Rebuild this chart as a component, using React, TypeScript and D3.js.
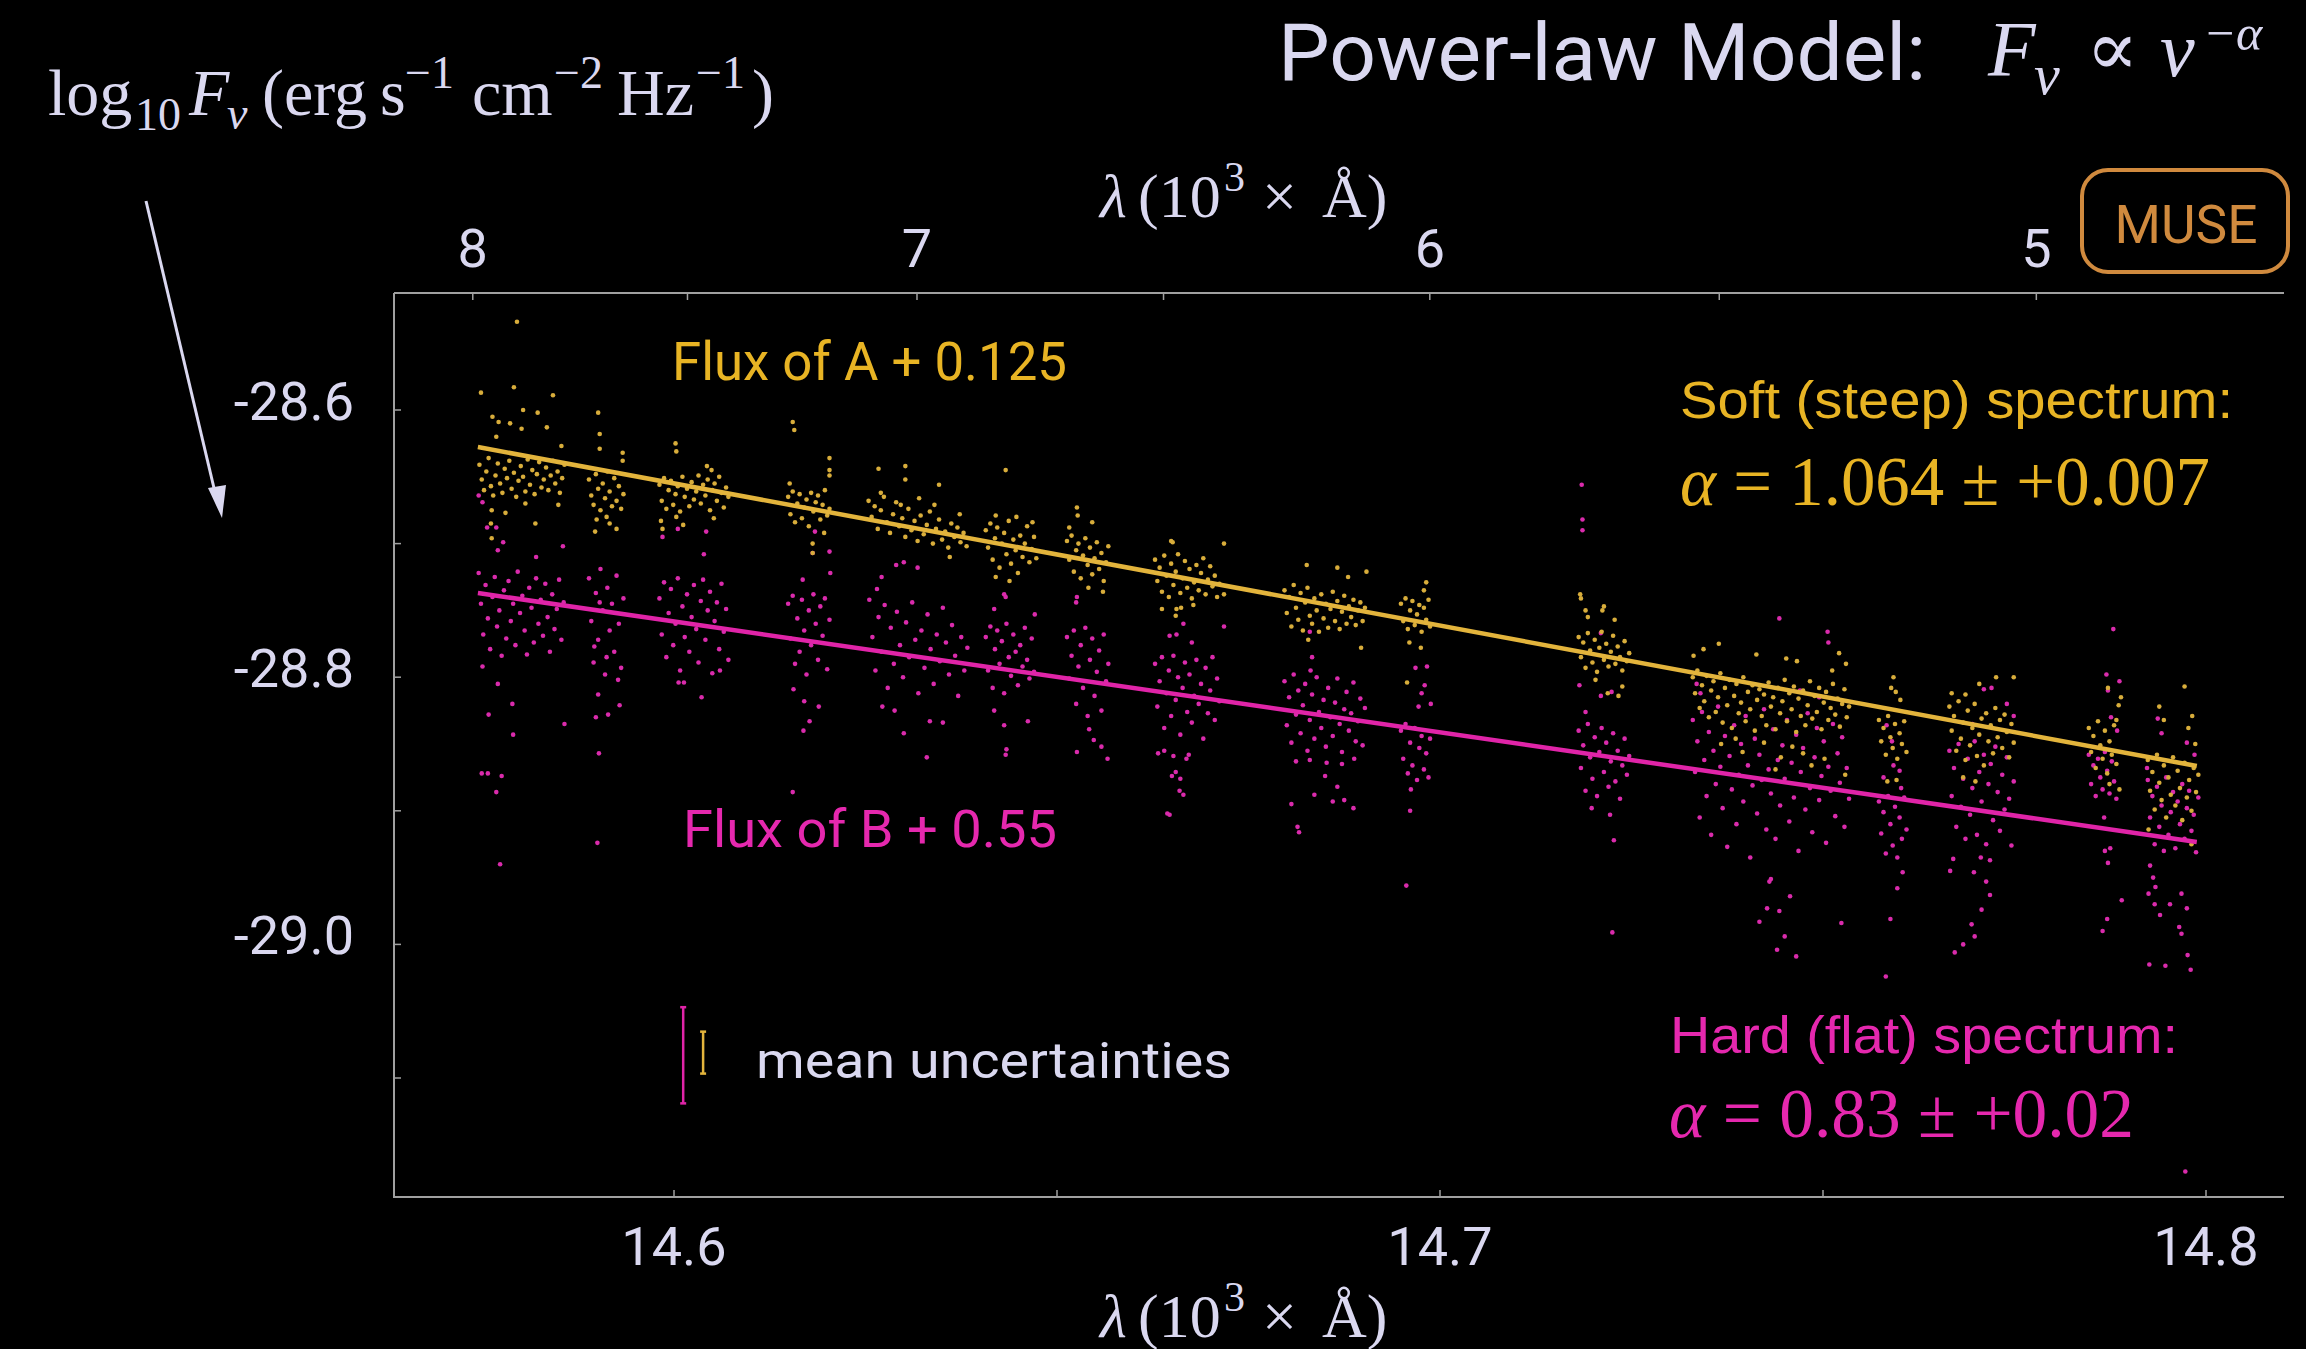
import React, { useEffect } from "react";
import * as d3 from "d3";

// ---------- ticks ----------
const xTicks = [14.6, 14.65, 14.7, 14.75, 14.8];
const xTickLabels = ["14.6", "", "14.7", "", "14.8"];
const yTicks = [-28.6, -28.7, -28.8, -28.9, -29.0, -29.1];
const yTickLabels = ["-28.6", "", "-28.8", "", "-29.0", ""];
const lambdaTicks = [8, 7.5, 7, 6.5, 6, 5.5, 5]; // 10^3 Å
const lambdaTickLabels = ["8", "", "7", "", "6", "", "5"];

// ---------- fits (power-law model lines) ----------
const fitA: number[][] = [[14.5744, -28.6277], [14.7988, -28.8665]];
const fitB: number[][] = [[14.5744, -28.737], [14.7988, -28.9233]];

// mean uncertainties [x, y, half-height]
const errA = [14.6038, -29.081, 0.0157];
const errB = [14.6012, -29.083, 0.036];

// ---------- Flux of A + 0.125 ----------
const fluxA_1 = [[14.5746,-28.641],[14.5749,-28.652],[14.5752,-28.660],[14.5755,-28.646],[14.5758,-28.636],[14.5761,-28.657],[14.5764,-28.664],[14.5767,-28.649],[14.5770,-28.640],[14.5773,-28.655],[14.5776,-28.662],[14.5779,-28.644],[14.5782,-28.651],[14.5785,-28.638],[14.5788,-28.659],[14.5791,-28.647],[14.5794,-28.665],[14.5797,-28.653],[14.5800,-28.642],[14.5803,-28.650],[14.5806,-28.661],[14.5809,-28.637],[14.5812,-28.656],[14.5815,-28.645],[14.5818,-28.663],[14.5821,-28.648],[14.5824,-28.639],[14.5827,-28.658],[14.5830,-28.652],[14.5833,-28.643],[14.5836,-28.660],[14.5839,-28.649],[14.5842,-28.638],[14.5845,-28.655],[14.5848,-28.646],[14.5851,-28.662],[14.5854,-28.651],[14.5857,-28.641],
[14.5748,-28.587],[14.5791,-28.583],[14.5842,-28.589],[14.5803,-28.600],[14.5822,-28.602],[14.5763,-28.605],[14.5771,-28.609],[14.5786,-28.610],[14.5801,-28.614],[14.5834,-28.613],[14.5768,-28.620],[14.5853,-28.627],[14.5762,-28.675],[14.5780,-28.677],[14.5761,-28.685],[14.5819,-28.685],[14.5762,-28.696],[14.5806,-28.670],[14.5849,-28.671],[14.5795,-28.534]];
const fluxA_2 = [[14.5889,-28.652],[14.5892,-28.664],[14.5895,-28.671],[14.5898,-28.648],[14.5901,-28.659],[14.5904,-28.675],[14.5907,-28.655],[14.5910,-28.666],[14.5913,-28.646],[14.5916,-28.661],[14.5919,-28.672],[14.5922,-28.651],[14.5925,-28.668],[14.5928,-28.657],[14.5931,-28.674],[14.5934,-28.663],
[14.5901,-28.602],[14.5903,-28.618],[14.5903,-28.629],[14.5933,-28.632],[14.5933,-28.638],[14.5899,-28.682],[14.5897,-28.691],[14.5916,-28.685],[14.5925,-28.689],[14.5912,-28.680]];
const fluxA_3 = [[14.5981,-28.656],[14.5984,-28.668],[14.5987,-28.651],[14.5990,-28.674],[14.5993,-28.660],[14.5996,-28.653],[14.5999,-28.671],[14.6002,-28.663],[14.6005,-28.657],[14.6008,-28.676],[14.6011,-28.650],[14.6014,-28.665],[14.6017,-28.659],[14.6020,-28.672],[14.6023,-28.654],[14.6026,-28.667],[14.6029,-28.661],[14.6032,-28.649],[14.6035,-28.670],[14.6038,-28.656],[14.6041,-28.664],[14.6044,-28.652],[14.6047,-28.675],[14.6050,-28.660],[14.6053,-28.655],[14.6056,-28.668],[14.6059,-28.650],[14.6062,-28.662],[14.6065,-28.673],[14.6068,-28.658],[14.6071,-28.665],
[14.6002,-28.625],[14.6003,-28.631],[14.6043,-28.642],[14.6049,-28.645],[14.5983,-28.683],[14.6003,-28.680],[14.6052,-28.681],[14.5985,-28.689],[14.6012,-28.686]];
const fluxA_4 = [[14.6149,-28.665],[14.6152,-28.678],[14.6155,-28.661],[14.6158,-28.684],[14.6161,-28.670],[14.6164,-28.663],[14.6167,-28.681],[14.6170,-28.673],[14.6173,-28.667],[14.6176,-28.687],[14.6179,-28.662],[14.6182,-28.676],[14.6185,-28.669],[14.6188,-28.664],[14.6191,-28.682],[14.6194,-28.671],[14.6197,-28.660],[14.6200,-28.679],[14.6203,-28.674],
[14.6155,-28.609],[14.6157,-28.615],[14.6203,-28.636],[14.6203,-28.645],[14.6151,-28.655],[14.6203,-28.649],[14.6181,-28.700],[14.6181,-28.707],[14.6196,-28.692]];
const fluxA_5 = [[14.6254,-28.668],[14.6258,-28.680],[14.6262,-28.672],[14.6266,-28.689],[14.6270,-28.675],[14.6274,-28.665],[14.6278,-28.684],[14.6282,-28.692],[14.6286,-28.678],[14.6290,-28.669],[14.6294,-28.687],[14.6298,-28.681],[14.6302,-28.695],[14.6306,-28.674],[14.6310,-28.690],[14.6314,-28.683],[14.6318,-28.698],[14.6322,-28.679],[14.6326,-28.693],[14.6330,-28.686],[14.6334,-28.676],[14.6338,-28.700],[14.6342,-28.689],[14.6346,-28.682],[14.6350,-28.697],[14.6354,-28.691],[14.6358,-28.703],[14.6362,-28.685],[14.6366,-28.695],[14.6370,-28.688],[14.6374,-28.699],[14.6378,-28.692],[14.6382,-28.702],[14.6296,-28.671],[14.6320,-28.666],[14.6340,-28.671],
[14.6267,-28.644],[14.6302,-28.642],[14.6302,-28.652],[14.6346,-28.656],[14.6360,-28.710],[14.6270,-28.662],[14.6373,-28.678]];
const fluxA_6 = [[14.6407,-28.690],[14.6410,-28.703],[14.6413,-28.685],[14.6416,-28.712],[14.6419,-28.696],[14.6422,-28.688],[14.6425,-28.718],[14.6428,-28.700],[14.6431,-28.692],[14.6434,-28.708],[14.6437,-28.683],[14.6440,-28.715],[14.6443,-28.697],[14.6446,-28.705],[14.6449,-28.722],[14.6452,-28.694],[14.6455,-28.710],[14.6458,-28.700],[14.6461,-28.687],[14.6464,-28.714],[14.6467,-28.704],[14.6470,-28.695],[14.6473,-28.711],
[14.6433,-28.645],[14.6420,-28.679],[14.6447,-28.680],[14.6468,-28.684],[14.6420,-28.725],[14.6438,-28.728]];
const fluxA_7 = [[14.6513,-28.698],[14.6516,-28.712],[14.6519,-28.694],[14.6522,-28.721],[14.6525,-28.705],[14.6528,-28.700],[14.6531,-28.726],[14.6534,-28.709],[14.6537,-28.696],[14.6540,-28.716],[14.6543,-28.703],[14.6546,-28.723],[14.6549,-28.711],[14.6552,-28.699],[14.6555,-28.719],[14.6558,-28.707],[14.6561,-28.728],[14.6564,-28.714],[14.6567,-28.702],
[14.6526,-28.673],[14.6527,-28.679],[14.6546,-28.684],[14.6516,-28.688],[14.6541,-28.733],[14.6560,-28.736]];
const fluxA_8 = [[14.6628,-28.712],[14.6631,-28.728],[14.6634,-28.718],[14.6637,-28.736],[14.6640,-28.709],[14.6643,-28.724],[14.6646,-28.740],[14.6649,-28.715],[14.6652,-28.731],[14.6655,-28.721],[14.6658,-28.708],[14.6661,-28.737],[14.6664,-28.726],[14.6667,-28.713],[14.6670,-28.733],[14.6673,-28.719],[14.6676,-28.741],[14.6679,-28.729],[14.6682,-28.716],[14.6685,-28.735],[14.6688,-28.722],[14.6691,-28.711],[14.6694,-28.738],[14.6697,-28.727],[14.6700,-28.717],[14.6703,-28.732],[14.6706,-28.724],[14.6709,-28.740],[14.6712,-28.730],
[14.6649,-28.698],[14.6651,-28.699],[14.6718,-28.700],[14.6637,-28.749],[14.6656,-28.749],[14.6662,-28.748],[14.6655,-28.754],[14.6678,-28.746],[14.6718,-28.738]];
const fluxA_9 = [[14.6797,-28.735],[14.6800,-28.752],[14.6803,-28.740],[14.6806,-28.762],[14.6809,-28.731],[14.6812,-28.748],[14.6815,-28.757],[14.6818,-28.737],[14.6821,-28.765],[14.6824,-28.744],[14.6827,-28.733],[14.6830,-28.754],[14.6833,-28.760],[14.6836,-28.741],[14.6839,-28.750],[14.6842,-28.766],[14.6845,-28.738],[14.6848,-28.756],[14.6851,-28.745],[14.6854,-28.763],[14.6857,-28.749],[14.6860,-28.736],[14.6863,-28.758],[14.6866,-28.743],[14.6869,-28.764],[14.6872,-28.751],[14.6875,-28.739],[14.6878,-28.760],[14.6881,-28.747],[14.6884,-28.755],[14.6887,-28.742],[14.6890,-28.761],[14.6893,-28.750],[14.6896,-28.744],[14.6899,-28.758],[14.6902,-28.748],
[14.6826,-28.716],[14.6866,-28.718],[14.6904,-28.721],[14.6828,-28.772],[14.6897,-28.778],[14.6880,-28.725]];
const fluxA_10 = [[14.6949,-28.745],[14.6952,-28.758],[14.6955,-28.741],[14.6958,-28.764],[14.6961,-28.750],[14.6964,-28.743],[14.6967,-28.761],[14.6970,-28.753],[14.6973,-28.746],[14.6976,-28.766],[14.6979,-28.748],[14.6982,-28.757],[14.6985,-28.742],[14.6987,-28.762],
[14.6982,-28.729],[14.6979,-28.735],[14.6960,-28.774],[14.6975,-28.778],[14.6957,-28.804]];
const fluxA_11 = [[14.7181,-28.770],[14.7184,-28.785],[14.7187,-28.774],[14.7190,-28.793],[14.7193,-28.767],[14.7196,-28.780],[14.7199,-28.789],[14.7202,-28.772],[14.7205,-28.796],[14.7208,-28.778],[14.7211,-28.766],[14.7214,-28.787],[14.7217,-28.775],[14.7220,-28.792],[14.7223,-28.781],[14.7226,-28.769],[14.7229,-28.790],[14.7232,-28.777],[14.7235,-28.785],[14.7238,-28.795],[14.7241,-28.773],[14.7244,-28.788],[14.7247,-28.782],
[14.7183,-28.738],[14.7184,-28.741],[14.7214,-28.747],[14.7190,-28.750],[14.7212,-28.750],[14.7193,-28.755],[14.7228,-28.757],[14.7203,-28.802],[14.7238,-28.807],[14.7219,-28.812],[14.7233,-28.814]];
const fluxA_12 = [[14.7330,-28.800],[14.7333,-28.812],[14.7336,-28.795],[14.7339,-28.823],[14.7342,-28.806],[14.7345,-28.818],[14.7348,-28.799],[14.7351,-28.830],[14.7354,-28.810],[14.7357,-28.803],[14.7360,-28.826],[14.7363,-28.815],[14.7366,-28.797],[14.7369,-28.834],[14.7372,-28.808],[14.7375,-28.821],[14.7378,-28.802],[14.7381,-28.838],[14.7384,-28.814],[14.7387,-28.805],[14.7390,-28.827],[14.7393,-28.819],[14.7396,-28.800],[14.7399,-28.833],[14.7402,-28.811],[14.7405,-28.824],[14.7408,-28.806],[14.7411,-28.840],[14.7414,-28.817],[14.7417,-28.809],[14.7420,-28.829],[14.7423,-28.813],[14.7426,-28.836],[14.7429,-28.804],[14.7432,-28.822],[14.7435,-28.815],[14.7438,-28.839],[14.7441,-28.808],[14.7444,-28.827],[14.7447,-28.818],[14.7450,-28.802],[14.7453,-28.833],[14.7456,-28.812],[14.7459,-28.824],[14.7462,-28.807],[14.7465,-28.841],[14.7468,-28.816],[14.7471,-28.829],[14.7474,-28.810],[14.7477,-28.836],[14.7480,-28.821],[14.7483,-28.803],[14.7486,-28.831],[14.7489,-28.814],[14.7492,-28.826],[14.7495,-28.808],[14.7498,-28.839],[14.7501,-28.819],[14.7504,-28.811],[14.7507,-28.832],[14.7510,-28.823],[14.7513,-28.805],[14.7516,-28.828],[14.7519,-28.816],[14.7522,-28.837],[14.7525,-28.820],[14.7528,-28.809],[14.7531,-28.830],[14.7534,-28.822],
[14.7331,-28.784],[14.7344,-28.779],[14.7364,-28.775],[14.7413,-28.783],[14.7452,-28.786],[14.7466,-28.788],[14.7521,-28.782],[14.7530,-28.790],[14.7512,-28.795],
[14.7367,-28.850],[14.7386,-28.846],[14.7423,-28.849],[14.7460,-28.852],[14.7474,-28.857],[14.7485,-28.866],[14.7529,-28.873],[14.7438,-28.869],[14.7445,-28.860],[14.7502,-28.861],[14.7395,-28.856]];
const fluxA_13 = [[14.7573,-28.832],[14.7576,-28.848],[14.7579,-28.838],[14.7582,-28.858],[14.7585,-28.829],[14.7588,-28.845],[14.7591,-28.853],[14.7594,-28.835],[14.7597,-28.861],[14.7600,-28.842],[14.7603,-28.850],[14.7606,-28.833],[14.7609,-28.856],
[14.7592,-28.800],[14.7589,-28.808],[14.7595,-28.811],[14.7601,-28.817],[14.7584,-28.878],[14.7596,-28.877]];
const fluxA_14 = [[14.7665,-28.822],[14.7668,-28.840],[14.7671,-28.829],[14.7674,-28.855],[14.7677,-28.818],[14.7680,-28.846],[14.7683,-28.834],[14.7686,-28.862],[14.7689,-28.825],[14.7692,-28.851],[14.7695,-28.838],[14.7698,-28.820],[14.7701,-28.859],[14.7704,-28.843],[14.7707,-28.831],[14.7710,-28.866],[14.7713,-28.827],[14.7716,-28.848],[14.7719,-28.836],[14.7722,-28.857],[14.7725,-28.823],[14.7728,-28.845],[14.7731,-28.832],[14.7734,-28.853],[14.7737,-28.828],[14.7740,-28.841],[14.7743,-28.860],[14.7746,-28.835],[14.7749,-28.849],
[14.7726,-28.800],[14.7749,-28.800],[14.7704,-28.805],[14.7668,-28.812],[14.7686,-28.813],[14.7683,-28.875],[14.7699,-28.878]];
const fluxA_15 = [[14.7847,-28.838],[14.7850,-28.856],[14.7853,-28.844],[14.7856,-28.868],[14.7859,-28.833],[14.7862,-28.851],[14.7865,-28.861],[14.7868,-28.840],[14.7871,-28.872],[14.7874,-28.848],[14.7877,-28.858],[14.7880,-28.836],[14.7883,-28.865],
[14.7872,-28.808],[14.7889,-28.815],[14.7886,-28.821],[14.7883,-28.832],[14.7887,-28.884],[14.7874,-28.880]];
const fluxA_16 = [[14.7924,-28.862],[14.7927,-28.885],[14.7930,-28.871],[14.7933,-28.899],[14.7936,-28.858],[14.7939,-28.879],[14.7942,-28.892],[14.7945,-28.866],[14.7948,-28.905],[14.7951,-28.875],[14.7954,-28.888],[14.7957,-28.860],[14.7960,-28.896],[14.7963,-28.870],[14.7966,-28.883],[14.7969,-28.907],[14.7972,-28.864],[14.7975,-28.890],[14.7978,-28.877],[14.7981,-28.900],[14.7984,-28.868],[14.7987,-28.886],[14.7990,-28.873],
[14.7972,-28.807],[14.7939,-28.822],[14.7982,-28.829],[14.7945,-28.832],[14.7977,-28.838],[14.7986,-28.850],[14.7925,-28.914],[14.7981,-28.925]];

// ---------- Flux of B + 0.55 ----------
const fluxB_1 = [[14.5745,-28.722],[14.5748,-28.745],[14.5751,-28.768],[14.5754,-28.731],[14.5757,-28.756],[14.5760,-28.779],[14.5763,-28.740],[14.5766,-28.725],[14.5769,-28.762],[14.5772,-28.750],[14.5775,-28.784],[14.5778,-28.735],[14.5781,-28.771],[14.5784,-28.728],[14.5787,-28.758],[14.5790,-28.745],[14.5793,-28.776],[14.5796,-28.721],[14.5799,-28.752],[14.5802,-28.739],[14.5805,-28.765],[14.5808,-28.783],[14.5811,-28.733],[14.5814,-28.748],[14.5817,-28.774],[14.5820,-28.726],[14.5823,-28.760],[14.5826,-28.742],[14.5829,-28.769],[14.5832,-28.730],[14.5835,-28.755],[14.5838,-28.781],[14.5841,-28.738],[14.5844,-28.764],[14.5847,-28.749],[14.5850,-28.727],[14.5853,-28.772],[14.5856,-28.744],
[14.5745,-28.664],[14.5750,-28.669],[14.5756,-28.688],[14.5768,-28.688],[14.5777,-28.699],[14.5770,-28.705],[14.5855,-28.702],[14.5820,-28.710],
[14.5750,-28.792],[14.5770,-28.805],[14.5758,-28.828],[14.5789,-28.820],[14.5790,-28.843],[14.5857,-28.835],[14.5749,-28.872],[14.5757,-28.872],[14.5775,-28.874],[14.5768,-28.886],[14.5773,-28.940]];
const fluxB_2 = [[14.5889,-28.726],[14.5892,-28.758],[14.5895,-28.789],[14.5898,-28.737],[14.5901,-28.772],[14.5904,-28.719],[14.5907,-28.750],[14.5910,-28.798],[14.5913,-28.733],[14.5916,-28.765],[14.5919,-28.745],[14.5922,-28.781],[14.5925,-28.724],[14.5928,-28.760],[14.5931,-28.793],[14.5934,-28.741],[14.5896,-28.777],[14.5912,-28.785],[14.5927,-28.802],[14.5903,-28.744],
[14.5901,-28.813],[14.5898,-28.830],[14.5902,-28.857],[14.5900,-28.924],[14.5914,-28.828],[14.5929,-28.821]];
const fluxB_3 = [[14.5981,-28.741],[14.5984,-28.768],[14.5987,-28.729],[14.5990,-28.785],[14.5993,-28.752],[14.5996,-28.734],[14.5999,-28.776],[14.6002,-28.760],[14.6005,-28.726],[14.6008,-28.795],[14.6011,-28.747],[14.6014,-28.770],[14.6017,-28.738],[14.6020,-28.781],[14.6023,-28.755],[14.6026,-28.731],[14.6029,-28.764],[14.6032,-28.789],[14.6035,-28.743],[14.6038,-28.727],[14.6041,-28.772],[14.6044,-28.750],[14.6047,-28.736],[14.6050,-28.797],[14.6053,-28.758],[14.6056,-28.744],[14.6059,-28.779],[14.6062,-28.730],[14.6065,-28.766],[14.6068,-28.749],[14.6071,-28.787],
[14.5985,-28.695],[14.6005,-28.689],[14.6042,-28.691],[14.6039,-28.708],[14.6006,-28.804],[14.6013,-28.804],[14.6036,-28.815],[14.6060,-28.795]];
const fluxB_4 = [[14.6149,-28.745],[14.6152,-28.771],[14.6155,-28.739],[14.6158,-28.790],[14.6161,-28.756],[14.6164,-28.781],[14.6167,-28.742],[14.6170,-28.765],[14.6173,-28.798],[14.6176,-28.750],[14.6179,-28.776],[14.6182,-28.738],[14.6185,-28.760],[14.6188,-28.787],[14.6191,-28.747],[14.6194,-28.769],[14.6197,-28.741],[14.6200,-28.794],[14.6203,-28.757],
[14.6184,-28.691],[14.6181,-28.707],[14.6203,-28.706],[14.6204,-28.722],[14.6168,-28.727],
[14.6156,-28.809],[14.6170,-28.818],[14.6189,-28.822],[14.6177,-28.833],[14.6169,-28.840],[14.6155,-28.886]];
const fluxB_5 = [[14.6255,-28.742],[14.6259,-28.770],[14.6263,-28.795],[14.6267,-28.755],[14.6271,-28.781],[14.6275,-28.746],[14.6279,-28.808],[14.6283,-28.763],[14.6287,-28.790],[14.6291,-28.751],[14.6295,-28.776],[14.6299,-28.800],[14.6303,-28.759],[14.6307,-28.785],[14.6311,-28.744],[14.6315,-28.772],[14.6319,-28.812],[14.6323,-28.765],[14.6327,-28.793],[14.6331,-28.753],[14.6335,-28.779],[14.6339,-28.805],[14.6343,-28.768],[14.6347,-28.788],[14.6351,-28.748],[14.6355,-28.774],[14.6359,-28.798],[14.6363,-28.761],[14.6367,-28.784],[14.6371,-28.814],[14.6375,-28.770],[14.6379,-28.795],[14.6383,-28.778],
[14.6265,-28.734],[14.6290,-28.716],[14.6300,-28.714],[14.6318,-28.718],[14.6271,-28.725],
[14.6272,-28.822],[14.6288,-28.825],[14.6334,-28.833],[14.6351,-28.834],[14.6330,-28.860],[14.6300,-28.842]];
const fluxB_6 = [[14.6407,-28.770],[14.6410,-28.795],[14.6413,-28.762],[14.6416,-28.808],[14.6419,-28.779],[14.6422,-28.765],[14.6425,-28.790],[14.6428,-28.773],[14.6431,-28.812],[14.6434,-28.760],[14.6437,-28.785],[14.6440,-28.799],[14.6443,-28.768],[14.6446,-28.781],[14.6449,-28.806],[14.6452,-28.776],[14.6455,-28.792],[14.6458,-28.763],[14.6461,-28.787],[14.6464,-28.801],[14.6467,-28.771],[14.6470,-28.796],
[14.6431,-28.738],[14.6433,-28.740],[14.6418,-28.749],[14.6471,-28.753],
[14.6418,-28.825],[14.6431,-28.836],[14.6462,-28.833],[14.6433,-28.858],[14.6434,-28.854]];
const fluxB_7 = [[14.6513,-28.770],[14.6516,-28.801],[14.6519,-28.784],[14.6522,-28.765],[14.6525,-28.820],[14.6528,-28.792],[14.6531,-28.776],[14.6534,-28.808],[14.6537,-28.763],[14.6540,-28.829],[14.6543,-28.787],[14.6546,-28.771],[14.6549,-28.814],[14.6552,-28.796],[14.6555,-28.780],[14.6558,-28.825],[14.6561,-28.768],[14.6564,-28.803],[14.6567,-28.790],
[14.6526,-28.740],[14.6525,-28.744],
[14.6542,-28.839],[14.6548,-28.847],[14.6558,-28.852],[14.6526,-28.856],[14.6566,-28.861]];
const fluxB_8 = [[14.6628,-28.790],[14.6631,-28.822],[14.6634,-28.803],[14.6637,-28.785],[14.6640,-28.838],[14.6643,-28.812],[14.6646,-28.795],[14.6649,-28.829],[14.6652,-28.784],[14.6655,-28.817],[14.6658,-28.800],[14.6661,-28.843],[14.6664,-28.808],[14.6667,-28.789],[14.6670,-28.826],[14.6673,-28.798],[14.6676,-28.834],[14.6679,-28.814],[14.6682,-28.787],[14.6685,-28.820],[14.6688,-28.805],[14.6691,-28.846],[14.6694,-28.793],[14.6697,-28.827],[14.6700,-28.810],[14.6703,-28.785],[14.6706,-28.832],[14.6709,-28.801],[14.6712,-28.818],
[14.6647,-28.769],[14.6656,-28.768],[14.6665,-28.760],[14.6718,-28.762],[14.6676,-28.774],
[14.6632,-28.857],[14.6640,-28.855],[14.6652,-28.859],[14.6672,-28.858],[14.6669,-28.861],[14.6655,-28.871],[14.6650,-28.874],[14.6661,-28.876],[14.6660,-28.885],[14.6665,-28.888],[14.6644,-28.902],[14.6647,-28.903]];
const fluxB_9 = [[14.6797,-28.803],[14.6800,-28.836],[14.6803,-28.815],[14.6806,-28.849],[14.6809,-28.798],[14.6812,-28.828],[14.6815,-28.810],[14.6818,-28.842],[14.6821,-28.821],[14.6824,-28.805],[14.6827,-28.855],[14.6830,-28.832],[14.6833,-28.813],[14.6836,-28.846],[14.6839,-28.800],[14.6842,-28.826],[14.6845,-28.838],[14.6848,-28.817],[14.6851,-28.852],[14.6854,-28.808],[14.6857,-28.830],[14.6860,-28.844],[14.6863,-28.819],[14.6866,-28.801],[14.6869,-28.835],[14.6872,-28.856],[14.6875,-28.824],[14.6878,-28.811],[14.6881,-28.840],[14.6884,-28.827],[14.6887,-28.804],[14.6890,-28.848],[14.6893,-28.833],[14.6896,-28.816],[14.6899,-28.851],[14.6902,-28.823],
[14.6830,-28.766],[14.6833,-28.785],[14.6831,-28.795],
[14.6812,-28.863],[14.6830,-28.862],[14.6852,-28.864],[14.6872,-28.865],[14.6888,-28.861],[14.6850,-28.874],[14.6866,-28.882],[14.6836,-28.888],[14.6860,-28.893],[14.6875,-28.892],[14.6887,-28.898],[14.6806,-28.895],[14.6814,-28.912],[14.6816,-28.916]];
const fluxB_10 = [[14.6949,-28.840],[14.6952,-28.861],[14.6955,-28.835],[14.6958,-28.872],[14.6961,-28.849],[14.6964,-28.866],[14.6967,-28.838],[14.6970,-28.877],[14.6973,-28.853],[14.6976,-28.844],[14.6979,-28.869],[14.6982,-28.857],[14.6985,-28.875],[14.6987,-28.846],
[14.6968,-28.793],[14.6983,-28.792],[14.6980,-28.806],[14.6976,-28.812],[14.6972,-28.822],[14.6988,-28.820],
[14.6962,-28.884],[14.6961,-28.900],[14.6956,-28.956]];
const fluxB_11 = [[14.7181,-28.840],[14.7184,-28.868],[14.7187,-28.851],[14.7190,-28.885],[14.7193,-28.835],[14.7196,-28.860],[14.7199,-28.876],[14.7202,-28.845],[14.7205,-28.889],[14.7208,-28.856],[14.7211,-28.838],[14.7214,-28.871],[14.7217,-28.849],[14.7220,-28.882],[14.7223,-28.863],[14.7226,-28.842],[14.7229,-28.878],[14.7232,-28.855],[14.7235,-28.891],[14.7238,-28.866],[14.7241,-28.846],[14.7244,-28.873],[14.7247,-28.859],
[14.7185,-28.656],[14.7186,-28.682],[14.7186,-28.690],[14.7210,-28.767],[14.7182,-28.806],[14.7210,-28.814],[14.7224,-28.811],[14.7190,-28.826],
[14.7222,-28.903],[14.7227,-28.922],[14.7225,-28.991],[14.7198,-28.898]];
const fluxB_12 = [[14.7330,-28.832],[14.7333,-28.871],[14.7336,-28.848],[14.7339,-28.905],[14.7342,-28.826],[14.7345,-28.862],[14.7348,-28.889],[14.7351,-28.841],[14.7354,-28.918],[14.7357,-28.855],[14.7360,-28.880],[14.7363,-28.822],[14.7366,-28.867],[14.7369,-28.898],[14.7372,-28.844],[14.7375,-28.927],[14.7378,-28.859],[14.7381,-28.884],[14.7384,-28.836],[14.7387,-28.910],[14.7390,-28.873],[14.7393,-28.850],[14.7396,-28.893],[14.7399,-28.829],[14.7402,-28.866],[14.7405,-28.935],[14.7408,-28.881],[14.7411,-28.846],[14.7414,-28.902],[14.7417,-28.858],[14.7420,-28.877],[14.7423,-28.824],[14.7426,-28.914],[14.7429,-28.869],[14.7432,-28.887],[14.7435,-28.839],[14.7438,-28.921],[14.7441,-28.862],[14.7444,-28.896],[14.7447,-28.851],[14.7450,-28.876],[14.7453,-28.832],[14.7456,-28.908],[14.7459,-28.864],[14.7462,-28.890],[14.7465,-28.843],[14.7468,-28.930],[14.7471,-28.871],[14.7474,-28.853],[14.7477,-28.899],[14.7480,-28.827],[14.7483,-28.883],[14.7486,-28.916],[14.7489,-28.860],[14.7492,-28.838],[14.7495,-28.892],[14.7498,-28.874],[14.7501,-28.848],[14.7504,-28.924],[14.7507,-28.867],[14.7510,-28.885],[14.7513,-28.835],[14.7516,-28.904],[14.7519,-28.857],[14.7522,-28.879],[14.7525,-28.845],[14.7528,-28.912],[14.7531,-28.868],[14.7534,-28.891],
[14.7443,-28.756],[14.7506,-28.766],[14.7507,-28.774],[14.7335,-28.805],[14.7340,-28.812],[14.7470,-28.810],[14.7495,-28.815],
[14.7430,-28.953],[14.7432,-28.951],[14.7457,-28.964],[14.7427,-28.973],[14.7443,-28.975],[14.7417,-28.983],[14.7450,-28.994],[14.7440,-29.004],[14.7465,-29.009],[14.7524,-28.984]];
const fluxB_13 = [[14.7573,-28.893],[14.7576,-28.917],[14.7579,-28.901],[14.7582,-28.932],[14.7585,-28.889],[14.7588,-28.910],[14.7591,-28.926],[14.7594,-28.897],[14.7597,-28.935],[14.7600,-28.905],[14.7603,-28.921],[14.7606,-28.890],[14.7609,-28.914],
[14.7583,-28.836],[14.7590,-28.848],[14.7592,-28.866],[14.7600,-28.870],[14.7602,-28.883],[14.7579,-28.875],
[14.7597,-28.958],[14.7588,-28.981],[14.7582,-29.024],[14.7604,-28.946]];
const fluxB_14 = [[14.7665,-28.855],[14.7668,-28.889],[14.7671,-28.868],[14.7674,-28.912],[14.7677,-28.850],[14.7680,-28.897],[14.7683,-28.876],[14.7686,-28.921],[14.7689,-28.861],[14.7692,-28.903],[14.7695,-28.883],[14.7698,-28.848],[14.7701,-28.918],[14.7704,-28.871],[14.7707,-28.893],[14.7710,-28.858],[14.7713,-28.925],[14.7716,-28.880],[14.7719,-28.865],[14.7722,-28.907],[14.7725,-28.852],[14.7728,-28.886],[14.7731,-28.915],[14.7734,-28.873],[14.7737,-28.899],[14.7740,-28.860],[14.7743,-28.891],[14.7746,-28.926],[14.7749,-28.878],
[14.7710,-28.809],[14.7720,-28.808],[14.7740,-28.820],[14.7749,-28.829],[14.7695,-28.835],
[14.7670,-28.936],[14.7706,-28.935],[14.7718,-28.937],[14.7666,-28.945],[14.7697,-28.946],[14.7713,-28.953],[14.7707,-28.974],[14.7718,-28.963],[14.7694,-28.985],[14.7698,-28.994],[14.7683,-29.000],[14.7672,-29.006]];
const fluxB_15 = [[14.7847,-28.858],[14.7850,-28.880],[14.7853,-28.866],[14.7856,-28.889],[14.7859,-28.861],[14.7862,-28.875],[14.7865,-28.884],[14.7868,-28.856],[14.7871,-28.870],[14.7874,-28.887],[14.7877,-28.863],[14.7880,-28.878],[14.7883,-28.891],
[14.7879,-28.764],[14.7870,-28.798],[14.7872,-28.810],[14.7887,-28.803],[14.7876,-28.830],[14.7884,-28.840],
[14.7867,-28.905],[14.7868,-28.930],[14.7875,-28.928],[14.7872,-28.939],[14.7890,-28.967],[14.7871,-28.981],[14.7865,-28.990]];
const fluxB_16 = [[14.7924,-28.877],[14.7927,-28.905],[14.7930,-28.889],[14.7933,-28.925],[14.7936,-28.882],[14.7939,-28.912],[14.7942,-28.896],[14.7945,-28.930],[14.7948,-28.875],[14.7951,-28.918],[14.7954,-28.901],[14.7957,-28.886],[14.7960,-28.928],[14.7963,-28.893],[14.7966,-28.910],[14.7969,-28.880],[14.7972,-28.921],[14.7975,-28.898],[14.7978,-28.885],[14.7981,-28.915],[14.7984,-28.903],[14.7987,-28.931],[14.7990,-28.890],
[14.7937,-28.831],[14.7942,-28.842],[14.7975,-28.849],[14.7923,-28.868],[14.7985,-28.858],
[14.7927,-28.941],[14.7931,-28.950],[14.7934,-28.957],[14.7925,-28.962],[14.7933,-28.970],[14.7953,-28.970],[14.7940,-28.978],[14.7968,-28.962],[14.7975,-28.973],[14.7965,-28.987],[14.7968,-28.992],[14.7926,-29.015],[14.7947,-29.016],[14.7976,-29.008],[14.7980,-29.019],[14.7973,-29.170]];

const fluxA = [fluxA_1, fluxA_2, fluxA_3, fluxA_4, fluxA_5, fluxA_6, fluxA_7, fluxA_8, fluxA_9, fluxA_10, fluxA_11, fluxA_12, fluxA_13, fluxA_14, fluxA_15, fluxA_16].flat();
const fluxB = [fluxB_1, fluxB_2, fluxB_3, fluxB_4, fluxB_5, fluxB_6, fluxB_7, fluxB_8, fluxB_9, fluxB_10, fluxB_11, fluxB_12, fluxB_13, fluxB_14, fluxB_15, fluxB_16].flat();

// ---------- style ----------
const W = 2306, H = 1349;
const LAV = "#DAD8F0";
const AXIS = "#A0A0A0";
const YEL_LINE = "#E3B43C";
const YEL_PT = "#D8AD3B";
const YEL_TXT = "#E8B424";
const MAG_LINE = "#E024A8";
const MAG_PT = "#DA2BAC";
const MAG_TXT = "#E528AE";
const ORANGE = "#D08A3E";
const SANS = "Roboto, 'Liberation Sans', sans-serif";
const HELV = "'Liberation Sans', Arial, sans-serif";
const SERIF = "'Liberation Serif', 'DejaVu Serif', serif";
const C_ANG = 2.99792458e18; // speed of light, Å/s

const frame = { left: 394, top: 293, right: 2284, bottom: 1197 };

export default function App() {
  useEffect(() => {
    document.body.style.margin = "0";
    document.body.style.background = "#000";
  }, []);

  const x = d3.scaleLinear().domain([14.6, 14.8]).range([674, 2206]);
  const y = d3.scaleLinear().domain([-28.6, -29.1]).range([410, 1078]);
  const lamX = (l: number) => x(Math.log10(C_ANG / (l * 1000)));
  const line = d3.line<number[]>().x((d) => x(d[0])).y((d) => y(d[1]));
  const tick = 7;

  const errBar = (e: number[], color: string, w: number) => {
    const cx = x(e[0]);
    const y0 = y(e[1] + e[2]);
    const y1 = y(e[1] - e[2]);
    return (
      <g stroke={color} strokeWidth={w}>
        <line x1={cx} x2={cx} y1={y0} y2={y1} />
        <line x1={cx - 3} x2={cx + 3} y1={y0} y2={y0} />
        <line x1={cx - 3} x2={cx + 3} y1={y1} y2={y1} />
      </g>
    );
  };

  return (
    <svg width={W} height={H} viewBox={`0 0 ${W} ${H}`} style={{ display: "block", background: "#000" }}>
      <rect x={0} y={0} width={W} height={H} fill="#000" />

      {/* y-axis label */}
      <text fontFamily={SERIF} fontSize={66} fill={LAV}>
        <tspan x={48} y={115}>log</tspan>
        <tspan x={135} y={130} fontSize={46}>10</tspan>
        <tspan x={189} y={115} fontStyle="italic">F</tspan>
        <tspan x={227} y={129} fontSize={46} fontStyle="italic">ν</tspan>
        <tspan x={262} y={115}>(erg</tspan>
        <tspan x={380} y={115}>s</tspan>
        <tspan x={405} y={88} fontSize={46}>−1</tspan>
        <tspan x={472} y={115}>cm</tspan>
        <tspan x={554} y={88} fontSize={46}>−2</tspan>
        <tspan x={617} y={115}>Hz</tspan>
        <tspan x={696} y={88} fontSize={46}>−1</tspan>
        <tspan x={752} y={115}>)</tspan>
      </text>
      {/* arrow */}
      <line x1={146} y1={201} x2={218} y2={505} stroke={LAV} strokeWidth={3} />
      <path d="M 208 488 L 222 518 L 226 485 Z" fill={LAV} />

      {/* title */}
      <text x={1278} y={80} fontFamily={SANS} fontSize={80} fill={LAV} textLength={648} lengthAdjust="spacingAndGlyphs">Power-law Model:</text>
      <text fontFamily={SERIF} fontSize={78} fill={LAV}>
        <tspan x={1988} y={75} fontStyle="italic">F</tspan>
        <tspan x={2034} y={94} fontSize={58} fontStyle="italic">ν</tspan>
        <tspan x={2086} y={75}>∝</tspan>
        <tspan x={2160} y={76} fontStyle="italic">ν</tspan>
        <tspan x={2206} y={50} fontSize={50}>−</tspan>
        <tspan x={2236} y={50} fontSize={50} fontStyle="italic">α</tspan>
      </text>

      {/* MUSE box */}
      <rect x={2082} y={170} width={206} height={102} rx={26} fill="none" stroke={ORANGE} strokeWidth={4} />
      <text x={2186} y={243} textAnchor="middle" fontFamily={SANS} fontSize={54} fill={ORANGE} textLength={143} lengthAdjust="spacingAndGlyphs">MUSE</text>

      {/* axis titles */}
      {[217, 1337].map((by) => (
        <text key={by} fontFamily={SERIF} fontSize={62} fill={LAV}>
          <tspan x={1100} y={by} fontStyle="italic">λ</tspan>
          <tspan x={1138} y={by}>(10</tspan>
          <tspan x={1224} y={by - 26} fontSize={42}>3</tspan>
          <tspan x={1262} y={by}>×</tspan>
          <tspan x={1322} y={by}>Å)</tspan>
        </text>
      ))}

      {/* frame */}
      <path
        d={`M${frame.left},${frame.top} H${frame.right} M${frame.left},${frame.top} V${frame.bottom} H${frame.right}`}
        fill="none" stroke={AXIS} strokeWidth={2}
      />
      {/* bottom ticks */}
      {xTicks.map((t, i) => (
        <g key={"xb" + i}>
          <line x1={x(t)} x2={x(t)} y1={frame.bottom} y2={frame.bottom - tick} stroke={AXIS} strokeWidth={1.5} />
          {xTickLabels[i] && (
            <text x={x(t)} y={1265} textAnchor="middle" fontFamily={SANS} fontSize={54} fill={LAV}>{xTickLabels[i]}</text>
          )}
        </g>
      ))}
      {/* top ticks */}
      {lambdaTicks.map((l, i) => (
        <g key={"xt" + i}>
          <line x1={lamX(l)} x2={lamX(l)} y1={frame.top} y2={frame.top + tick} stroke={AXIS} strokeWidth={1.5} />
          {lambdaTickLabels[i] && (
            <text x={lamX(l)} y={267} textAnchor="middle" fontFamily={SANS} fontSize={54} fill={LAV}>{lambdaTickLabels[i]}</text>
          )}
        </g>
      ))}
      {/* left ticks */}
      {yTicks.map((t, i) => (
        <g key={"y" + i}>
          <line x1={frame.left} x2={frame.left + tick} y1={y(t)} y2={y(t)} stroke={AXIS} strokeWidth={1.5} />
          {yTickLabels[i] && (
            <text x={354} y={y(t) + 10} textAnchor="end" fontFamily={SANS} fontSize={54} fill={LAV}>{yTickLabels[i]}</text>
          )}
        </g>
      ))}

      {/* scatter */}
      <g fill={MAG_PT}>
        {fluxB.map((d, i) => (
          <circle key={"b" + i} cx={x(d[0])} cy={y(d[1])} r={2.3} />
        ))}
      </g>
      <g fill={YEL_PT}>
        {fluxA.map((d, i) => (
          <circle key={"a" + i} cx={x(d[0])} cy={y(d[1])} r={2.3} />
        ))}
      </g>

      {/* fit lines */}
      <path d={line(fitB) || ""} stroke={MAG_LINE} strokeWidth={4.5} fill="none" />
      <path d={line(fitA) || ""} stroke={YEL_LINE} strokeWidth={4.5} fill="none" />

      {/* annotations */}
      <text x={672} y={380} fontFamily={SANS} fontSize={54} fill={YEL_TXT} textLength={395} lengthAdjust="spacingAndGlyphs">Flux of A + 0.125</text>
      <text x={683} y={847} fontFamily={SANS} fontSize={52} fill={MAG_TXT} textLength={374} lengthAdjust="spacingAndGlyphs">Flux of B + 0.55</text>

      <text x={1680} y={418} fontFamily={HELV} fontSize={51} fill={YEL_TXT} textLength={553} lengthAdjust="spacingAndGlyphs">Soft (steep) spectrum:</text>
      <text x={1680} y={505} fontFamily={SERIF} fontSize={70} fill={YEL_TXT} textLength={530} lengthAdjust="spacingAndGlyphs">
        <tspan fontStyle="italic">α</tspan> = 1.064 ± +0.007
      </text>

      <text x={1670} y={1053} fontFamily={HELV} fontSize={52} fill={MAG_TXT} textLength={508} lengthAdjust="spacingAndGlyphs">Hard (flat) spectrum:</text>
      <text x={1669} y={1137} fontFamily={SERIF} fontSize={70} fill={MAG_TXT} textLength={465} lengthAdjust="spacingAndGlyphs">
        <tspan fontStyle="italic">α</tspan> = 0.83 ± +0.02
      </text>

      {/* mean uncertainties */}
      {errBar(errB, MAG_LINE, 2.5)}
      {errBar(errA, YEL_LINE, 2.5)}
      <text x={756} y={1078} fontFamily={SANS} fontSize={50} fill={LAV} textLength={476} lengthAdjust="spacingAndGlyphs">mean uncertainties</text>
    </svg>
  );
}
